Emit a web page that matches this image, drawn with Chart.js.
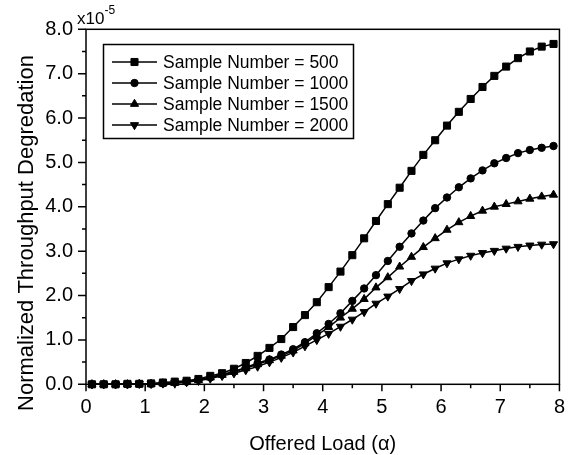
<!DOCTYPE html>
<html>
<head>
<meta charset="utf-8">
<script src="https://cdn.jsdelivr.net/npm/chart.js@4.4.1/dist/chart.umd.min.js"></script>
<style>
  html, body { margin: 0; padding: 0; background: #fff; }
  #chart { display: block; }
</style>
</head>
<body>
<canvas id="chart" width="576" height="455"></canvas>
<script>
const offeredLoad = [0.1, 0.3, 0.5, 0.7, 0.9, 1.1, 1.3, 1.5, 1.7, 1.9,
  2.1, 2.3, 2.5, 2.7, 2.9, 3.1, 3.3, 3.5, 3.7, 3.9,
  4.1, 4.3, 4.5, 4.7, 4.9, 5.1, 5.3, 5.5, 5.7, 5.9,
  6.1, 6.3, 6.5, 6.7, 6.9, 7.1, 7.3, 7.5, 7.7, 7.9];

const seriesLabels = ['Sample Number = 500', 'Sample Number = 1000', 'Sample Number = 1500', 'Sample Number = 2000'];

// values are in units of 1e-5
const samples500 = [0.00, 0.00, 0.00, 0.01, 0.01, 0.02, 0.04, 0.06, 0.08, 0.12,
  0.19, 0.25, 0.35, 0.48, 0.64, 0.82, 1.02, 1.29, 1.56, 1.85,
  2.19, 2.54, 2.91, 3.29, 3.68, 4.06, 4.43, 4.81, 5.17, 5.50,
  5.83, 6.14, 6.43, 6.70, 6.95, 7.16, 7.35, 7.50, 7.61, 7.67];
const samples1000 = [0.00, 0.00, 0.00, 0.00, 0.01, 0.01, 0.02, 0.04, 0.06, 0.10,
  0.16, 0.22, 0.29, 0.38, 0.48, 0.56, 0.67, 0.79, 0.95, 1.15,
  1.36, 1.60, 1.88, 2.16, 2.46, 2.78, 3.10, 3.40, 3.69, 3.97,
  4.21, 4.44, 4.64, 4.82, 4.98, 5.10, 5.21, 5.28, 5.33, 5.37];
const samples1500 = [0.00, 0.00, 0.00, 0.00, 0.01, 0.01, 0.02, 0.03, 0.05, 0.09,
  0.15, 0.21, 0.28, 0.36, 0.45, 0.54, 0.64, 0.76, 0.92, 1.10,
  1.29, 1.50, 1.70, 1.92, 2.18, 2.41, 2.65, 2.87, 3.09, 3.29,
  3.48, 3.65, 3.79, 3.91, 4.00, 4.06, 4.12, 4.18, 4.23, 4.27];
const samples2000 = [0.00, 0.00, 0.00, 0.00, 0.01, 0.01, 0.02, 0.03, 0.05, 0.08,
  0.13, 0.19, 0.25, 0.32, 0.40, 0.50, 0.60, 0.72, 0.86, 1.00,
  1.14, 1.30, 1.46, 1.63, 1.82, 1.98, 2.15, 2.33, 2.48, 2.61,
  2.73, 2.82, 2.90, 2.96, 3.01, 3.06, 3.10, 3.13, 3.15, 3.16];

const xTickValues = [0, 1, 2, 3, 4, 5, 6, 7, 8];
const xTickLabels = ['0', '1', '2', '3', '4', '5', '6', '7', '8'];
const yTickValues = [0, 1, 2, 3, 4, 5, 6, 7, 8];
const yTickLabels = ['0.0', '1.0', '2.0', '3.0', '4.0', '5.0', '6.0', '7.0', '8.0'];

const xTitle = 'Offered Load (\u03b1)';
const yTitle = 'Normalized Throughput Degredation';

const FONT = "'Liberation Sans', Arial, sans-serif";

function toPoints(values) {
  return offeredLoad.map((x, i) => ({ x: x, y: values[i] }));
}

function makeDataset(label, values, style, radius, rotation) {
  return {
    label: label,
    data: toPoints(values),
    borderColor: '#000',
    backgroundColor: '#000',
    borderWidth: 1.5,
    pointStyle: style,
    pointRadius: radius,
    pointRotation: rotation,
    pointBorderWidth: 1,
    pointBackgroundColor: '#000',
    pointBorderColor: '#000',
    tension: 0,
    clip: false,
  };
}

// half steps between the labelled ticks
function minorValues(ticks) {
  const out = [];
  for (let i = 0; i < ticks.length - 1; i++) out.push((ticks[i] + ticks[i + 1]) / 2);
  return out;
}

const frameTicks = {
  id: 'frameTicks',
  beforeDatasetsDraw(chart) {
    const { ctx, chartArea: a, scales: { x, y } } = chart;
    ctx.save();
    ctx.strokeStyle = '#000';
    ctx.lineWidth = 1.5;
    ctx.strokeRect(a.left, a.top, a.right - a.left, a.bottom - a.top);
    ctx.beginPath();
    xTickValues.forEach(v => { const p = x.getPixelForValue(v); ctx.moveTo(p, a.bottom); ctx.lineTo(p, a.bottom + 7); });
    minorValues(xTickValues).forEach(v => { const p = x.getPixelForValue(v); ctx.moveTo(p, a.bottom); ctx.lineTo(p, a.bottom + 4); });
    yTickValues.forEach(v => { const p = y.getPixelForValue(v); ctx.moveTo(a.left, p); ctx.lineTo(a.left - 8, p); });
    minorValues(yTickValues).forEach(v => { const p = y.getPixelForValue(v); ctx.moveTo(a.left, p); ctx.lineTo(a.left - 4, p); });
    ctx.stroke();

    // axis titles
    ctx.fillStyle = '#000';
    ctx.textAlign = 'center';
    ctx.textBaseline = 'alphabetic';
    ctx.font = '20px ' + FONT;
    ctx.fillText(xTitle, (a.left + a.right) / 2, 450);
    ctx.translate(33, 233);
    ctx.rotate(-Math.PI / 2);
    ctx.font = '22px ' + FONT;
    ctx.fillText(yTitle, 0, 0);
    ctx.restore();
  },
};

const boxLegend = {
  id: 'boxLegend',
  afterDraw(chart) {
    const ctx = chart.ctx;
    ctx.save();
    ctx.strokeStyle = '#000';
    ctx.fillStyle = '#000';
    ctx.lineWidth = 1.5;
    ctx.strokeRect(103.5, 44.5, 250, 94);
    ctx.font = '17.5px ' + FONT;
    ctx.textBaseline = 'middle';
    chart.data.datasets.forEach((ds, i) => {
      const yy = 62 + i * 21;
      ctx.lineWidth = 1.5;
      ctx.beginPath();
      ctx.moveTo(112, yy);
      ctx.lineTo(157, yy);
      ctx.stroke();
      ctx.lineWidth = 1;
      Chart.helpers.drawPoint(ctx, {
        pointStyle: ds.pointStyle,
        radius: ds.pointRadius,
        rotation: ds.pointRotation,
        borderWidth: 1,
      }, 134.5, yy);
      ctx.fillText(ds.label, 163, yy + 1);
    });

    // axis multiplier
    ctx.textBaseline = 'alphabetic';
    ctx.font = '17px ' + FONT;
    ctx.fillText('x10', 77, 24);
    const w = ctx.measureText('x10').width;
    ctx.font = '12px ' + FONT;
    ctx.fillText('-5', 77 + w, 13.5);
    ctx.restore();
  },
};

new Chart(document.getElementById('chart'), {
  type: 'line',
  data: {
    datasets: [
      makeDataset(seriesLabels[0], samples500, 'rect', 5, 0),
      makeDataset(seriesLabels[1], samples1000, 'circle', 3.7, 0),
      makeDataset(seriesLabels[2], samples1500, 'triangle', 4.7, 0),
      makeDataset(seriesLabels[3], samples2000, 'triangle', 4.7, 180),
    ],
  },
  options: {
    responsive: false,
    animation: false,
    devicePixelRatio: 1,
    layout: { padding: { top: 29.3, right: 10, left: 0, bottom: 0 } },
    plugins: {
      legend: { display: false },
      tooltip: { enabled: false },
    },
    scales: {
      x: {
        type: 'linear',
        min: 0,
        max: 8,
        grid: { display: false, drawTicks: false },
        border: { display: false },
        afterBuildTicks: scale => { scale.ticks = xTickValues.map(v => ({ value: v })); },
        afterFit: scale => { scale.height = 70.7; },
        ticks: {
          color: '#000',
          padding: 11,
          maxRotation: 0,
          font: { family: FONT, size: 20 },
          callback: (v, i) => xTickLabels[i],
        },
      },
      y: {
        min: 0,
        max: 8,
        grid: { display: false, drawTicks: false },
        border: { display: false },
        afterBuildTicks: scale => { scale.ticks = yTickValues.map(v => ({ value: v })); },
        afterFit: scale => { scale.width = 86; },
        ticks: {
          color: '#000',
          padding: 13,
          font: { family: FONT, size: 20 },
          callback: (v, i) => yTickLabels[i],
        },
      },
    },
  },
  plugins: [frameTicks, boxLegend],
});
</script>
</body>
</html>
